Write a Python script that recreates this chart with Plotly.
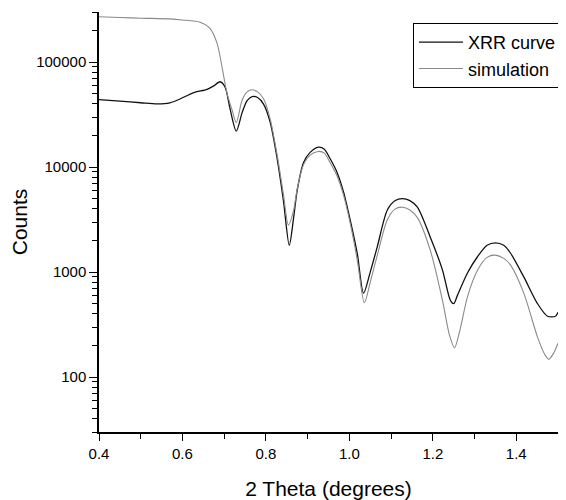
import numpy as np
import plotly.graph_objects as go

# XRR measured curve
theta_xrr = [0.400, 0.450, 0.500, 0.540, 0.570, 0.594, 0.626, 0.659, 0.674, 0.690,
             0.702, 0.714, 0.729, 0.743, 0.755, 0.767, 0.780, 0.794, 0.810, 0.827,
             0.842, 0.856, 0.866, 0.875, 0.890, 0.906, 0.926, 0.940, 0.954, 0.970,
             0.986, 1.003, 1.019, 1.034, 1.050, 1.067, 1.091, 1.110, 1.127, 1.145,
             1.163, 1.194, 1.223, 1.242, 1.250, 1.259, 1.283, 1.307, 1.330, 1.350,
             1.370, 1.386, 1.418, 1.451, 1.475, 1.494, 1.500]
counts_xrr = [44000, 42500, 41000, 40000, 41000, 44500, 51000, 55000, 59000, 65000,
              58000, 36000, 22000, 33000, 43000, 47000, 46000, 40000, 27000, 12000,
              4800, 1800, 3200, 6000, 11000, 13800, 15500, 14800, 12000, 9000,
              5800, 3000, 1500, 630, 1000, 1750, 3900, 4800, 5000, 4800,
              4150, 2150, 1050, 540, 500, 600, 980, 1400, 1800, 1900,
              1800, 1520, 900, 500, 380, 380, 415]

# simulation
theta_sim = [0.400, 0.450, 0.500, 0.570, 0.600, 0.642, 0.666, 0.683, 0.695, 0.707,
             0.719, 0.729, 0.743, 0.755, 0.767, 0.780, 0.794, 0.810, 0.827, 0.842,
             0.854, 0.866, 0.875, 0.890, 0.906, 0.926, 0.940, 0.954, 0.970, 0.986,
             1.003, 1.019, 1.036, 1.050, 1.067, 1.091, 1.110, 1.127, 1.145, 1.163,
             1.194, 1.223, 1.240, 1.252, 1.265, 1.283, 1.307, 1.330, 1.350, 1.370,
             1.386, 1.418, 1.451, 1.468, 1.478, 1.490, 1.500]
counts_sim = [270000, 266000, 262000, 258000, 252000, 240000, 210000, 151000, 89000, 50000,
              35000, 26500, 43500, 52000, 54500, 52000, 45000, 29000, 13000, 5500,
              2800, 3800, 6200, 10500, 13000, 14100, 13600, 11000, 8300, 5400,
              2800, 1300, 510, 800, 1450, 3150, 4000, 4150, 3900, 3300,
              1610, 540, 250, 190, 280, 580, 1040, 1380, 1450, 1350,
              1170, 630, 240, 165, 148, 170, 210]

y_major = [100, 1000, 10000, 100000]
y_minor = [30, 40, 50, 60, 70, 80, 90, 200, 300, 400, 500, 600, 700, 800, 900,
           2000, 3000, 4000, 5000, 6000, 7000, 8000, 9000,
           20000, 30000, 40000, 50000, 60000, 70000, 80000, 90000, 200000, 300000]

fig = go.Figure()
fig.add_trace(go.Scatter(x=theta_xrr, y=counts_xrr, mode="lines", name="XRR curve",
                         line=dict(color="#111111", width=1.3, shape="spline", smoothing=0.8)))
fig.add_trace(go.Scatter(x=theta_sim, y=counts_sim, mode="lines", name="simulation",
                         line=dict(color="#8a8a8a", width=1.1, shape="spline", smoothing=0.8)))

# the page body adds an 8px offset, so the figure is 8px smaller
fig.update_layout(
    width=558, height=492,
    margin=dict(l=91, r=8, t=4, b=68),
    paper_bgcolor="white", plot_bgcolor="white",
    font=dict(family="Liberation Sans, Arial, sans-serif", color="black", size=15),
    legend=dict(x=0.684, y=0.974, xanchor="left", yanchor="top",
                bgcolor="white", bordercolor="black", borderwidth=1,
                font=dict(size=18), tracegroupgap=0, itemwidth=44),
)
fig.update_xaxes(
    range=[0.4, 1.5], showline=True, linecolor="black", linewidth=1.5,
    showgrid=False, zeroline=False, automargin=False,
    ticks="outside", ticklen=7, tickwidth=1.2,
    tickcolor="black", tickvals=[0.4, 0.6, 0.8, 1.0, 1.2, 1.4],
    ticktext=["0.4", "0.6", "0.8", "1.0", "1.2", "1.4"],
    minor=dict(tickvals=[0.5, 0.7, 0.9, 1.1, 1.3, 1.5], ticks="outside",
               ticklen=5, tickwidth=1.2, tickcolor="black"),
    title=dict(text="2 Theta (degrees)", font=dict(size=21), standoff=22),
)
fig.update_yaxes(
    type="log", range=[np.log10(30), np.log10(300000)], showline=True,
    linecolor="black", linewidth=1.5, showgrid=False, zeroline=False,
    automargin=False,
    ticks="outside", ticklen=8, tickwidth=1.2, tickcolor="black",
    tickvals=y_major, ticktext=[str(v) for v in y_major],
    minor=dict(tickvals=y_minor, ticks="outside", ticklen=5, tickwidth=1.2,
               tickcolor="black"),
    title=dict(text="Counts", font=dict(size=21), standoff=12),
)

fig.write_html("out.html")
